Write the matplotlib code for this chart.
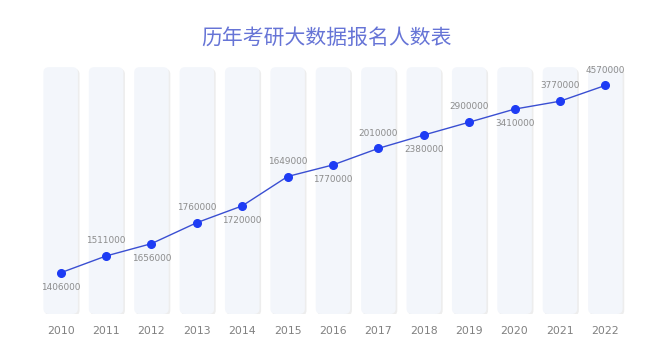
import matplotlib
matplotlib.use("Agg")
import matplotlib.pyplot as plt
from matplotlib.patches import FancyBboxPatch
import matplotlib.patheffects as pe

plt.rcParams['font.family'] = ['DejaVu Sans', 'Noto Sans CJK SC']

# ---- data ----
years = [2010, 2011, 2012, 2013, 2014, 2015, 2016, 2017, 2018, 2019, 2020, 2021, 2022]
label_values = [1406000, 1511000, 1656000, 1760000, 1720000, 1649000, 1770000,
                2010000, 2380000, 2900000, 3410000, 3770000, 4570000]
# plotted heights (axis scale 0-100)
plot_values = [16.7, 23.5, 28.5, 37.0, 43.8, 55.7, 60.4, 67.1, 72.5, 77.7, 83.0, 86.2, 92.6]
label_pos = ['below', 'above', 'below', 'above', 'below', 'above', 'below',
             'above', 'below', 'above', 'below', 'above', 'above']
bar_max = 100
title = '历年考研大数据报名人数表'

fig = plt.figure(figsize=(6.66, 3.63), dpi=100)
fig.patch.set_facecolor('white')
ax = fig.add_axes([0.057, 0.135, 0.886, 0.680])
ax.set_xlim(years[0] - 0.5, years[-1] + 0.5)
ax.set_ylim(0, bar_max)

# background bars with rounded corners and soft shadow
bw = 0.76
for yr in years:
    p = FancyBboxPatch((yr - bw / 2, 0), bw, bar_max,
                       boxstyle="round,pad=0,rounding_size=0.12",
                       mutation_aspect=18.0,
                       facecolor='#f3f6fb', edgecolor='none', zorder=1,
                       path_effects=[pe.SimplePatchShadow(offset=(1.2, -1.2),
                                                          shadow_rgbFace='#000000',
                                                          alpha=0.07),
                                     pe.Normal()])
    ax.add_patch(p)

ax.plot(years, plot_values, color='#3a4fd2', linewidth=1.0, zorder=3,
        marker='o', markersize=5.5, markerfacecolor='#1e3cf4',
        markeredgecolor='#1e3cf4')

for x, y, v, pos in zip(years, plot_values, label_values, label_pos):
    dy = 11 if pos == 'above' else -10.5
    ax.annotate(str(v), (x, y), xytext=(0, dy), textcoords='offset points',
                ha='center', va='center', fontsize=6.4, color='#8c8c8c', zorder=4)

ax.set_xticks(years)
ax.set_xticklabels([str(y) for y in years], fontsize=7.8, color='#808080')
ax.tick_params(axis='x', length=0, pad=9)
ax.set_yticks([])
for s in ax.spines.values():
    s.set_visible(False)
ax.set_facecolor('none')

fig.text(0.49, 0.895, title, ha='center', va='center', fontsize=15,
         color='#6674d6', family=['Noto Sans CJK SC'], fontweight='light')

fig.savefig('out.png', dpi=100)
